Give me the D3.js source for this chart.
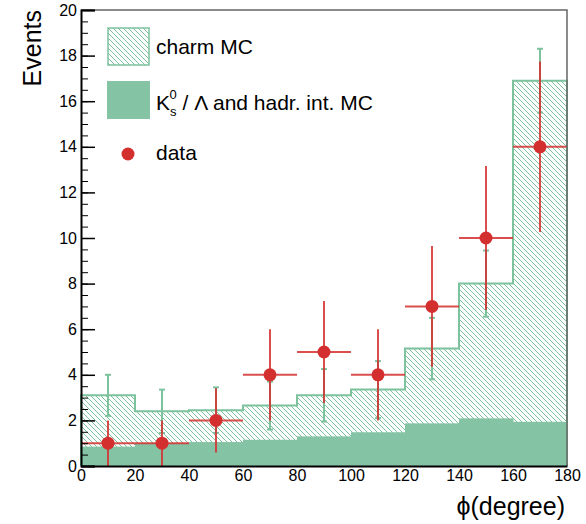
<!DOCTYPE html>
<html>
<head>
<meta charset="utf-8">
<script src="https://cdn.jsdelivr.net/npm/d3@7"></script>
<style>
  body { margin: 0; background: #fff; }
  svg text { font-family: "Liberation Sans", Arial, sans-serif; fill: #000; }
</style>
</head>
<body>
<div id="chart"></div>
<script>
// bin edges in phi (degree)
var phiEdges = [0, 20, 40, 60, 80, 100, 120, 140, 160, 180];
// charm MC (stacked total) and its errors
var charmMC = [3.1, 2.4, 2.45, 2.65, 3.1, 3.35, 5.15, 8.0, 16.9];
var charmErr = [0.9, 0.95, 1.0, 1.05, 1.15, 1.25, 1.35, 1.45, 1.4];
// K0s / Lambda and hadronic interaction MC
var hadrMC = [0.85, 1.0, 1.05, 1.15, 1.3, 1.48, 1.87, 2.09, 1.94];
// data points
var dataVals = [1, 1, 2, 4, 5, 4, 7, 10, 14];
var dataErr = [1, 1, 1.41, 2, 2.24, 2, 2.65, 3.16, 3.74];
var yTicks = [0, 2, 4, 6, 8, 10, 12, 14, 16, 18, 20];
var xTicks = [0, 20, 40, 60, 80, 100, 120, 140, 160, 180];

var width = 586, height = 524;
var margin = {top: 10, right: 19, bottom: 58, left: 81};

var svg = d3.select("#chart").append("svg")
    .attr("width", width)
    .attr("height", height);

var x = d3.scaleLinear().domain([0, 180]).range([margin.left, width - margin.right]);
var y = d3.scaleLinear().domain([0, 20]).range([height - margin.bottom, margin.top]);

var green = "#85c3a5", greenLine = "#7cc29d", red = "#d32f2f";

var defs = svg.append("defs");
var pat = defs.append("pattern")
    .attr("id", "hatch")
    .attr("patternUnits", "userSpaceOnUse")
    .attr("width", 5).attr("height", 5);
pat.append("path")
    .attr("d", "M-1,-1L6,6M-1,4L1,6M4,-1L6,1")
    .attr("stroke", greenLine)
    .attr("stroke-width", 1);

var bins = charmMC.map(function(v, i) {
    return {x0: phiEdges[i], x1: phiEdges[i + 1], charm: v, cErr: charmErr[i],
            hadr: hadrMC[i], data: dataVals[i], dErr: dataErr[i]};
});

// hatched charm MC
svg.selectAll(".charm")
    .data(bins)
  .enter().append("rect")
    .attr("class", "charm")
    .attr("x", function(d) { return x(d.x0); })
    .attr("width", function(d) { return x(d.x1) - x(d.x0); })
    .attr("y", function(d) { return y(d.charm); })
    .attr("height", function(d) { return y(0) - y(d.charm); })
    .attr("fill", "url(#hatch)");

// solid hadr. MC
svg.selectAll(".hadr")
    .data(bins)
  .enter().append("rect")
    .attr("class", "hadr")
    .attr("x", function(d) { return x(d.x0); })
    .attr("width", function(d) { return x(d.x1) - x(d.x0) + 0.5; })
    .attr("y", function(d) { return y(d.hadr); })
    .attr("height", function(d) { return y(0) - y(d.hadr); })
    .attr("fill", green);

// step outline of charm MC
var stepPts = [[0, 0]];
bins.forEach(function(d) { stepPts.push([d.x0, d.charm]); stepPts.push([d.x1, d.charm]); });
stepPts.push([180, 0]);
svg.append("path")
    .datum(stepPts)
    .attr("fill", "none")
    .attr("stroke", greenLine)
    .attr("stroke-width", 2)
    .attr("d", d3.line().x(function(p) { return x(p[0]); }).y(function(p) { return y(p[1]); }));

// MC error bars
var mcErr = svg.append("g").attr("stroke", greenLine).attr("stroke-width", 2);
bins.forEach(function(d) {
    var cx = x((d.x0 + d.x1) / 2);
    mcErr.append("line").attr("x1", cx).attr("x2", cx)
        .attr("y1", y(d.charm - d.cErr)).attr("y2", y(d.charm + d.cErr));
    [d.charm - d.cErr, d.charm + d.cErr].forEach(function(v) {
        mcErr.append("line").attr("x1", cx - 3).attr("x2", cx + 3)
            .attr("y1", y(v)).attr("y2", y(v));
    });
});

// data error bars and points
var dg = svg.append("g");
bins.forEach(function(d) {
    var cx = x((d.x0 + d.x1) / 2);
    dg.append("line").attr("x1", cx).attr("x2", cx)
        .attr("y1", y(Math.max(0, d.data - d.dErr))).attr("y2", y(d.data + d.dErr))
        .attr("stroke", red).attr("stroke-width", 2).attr("stroke-opacity", 0.85);
    dg.append("line").attr("x1", x(d.x0)).attr("x2", x(d.x1))
        .attr("y1", y(d.data)).attr("y2", y(d.data))
        .attr("stroke", red).attr("stroke-width", 2).attr("stroke-opacity", 0.85);
});
dg.selectAll("circle")
    .data(bins)
  .enter().append("circle")
    .attr("cx", function(d) { return x((d.x0 + d.x1) / 2); })
    .attr("cy", function(d) { return y(d.data); })
    .attr("r", 6.5)
    .attr("fill", red);

// frame
svg.append("path")
    .attr("d", "M" + x(0) + "," + y(20) + "H" + x(180) + "V" + y(0))
    .attr("fill", "none").attr("stroke", "#666").attr("stroke-width", 1.5);

// y axis with inner ticks
var yAxis = svg.append("g")
    .attr("transform", "translate(" + x(0) + ",0)")
    .call(d3.axisLeft(y).tickValues(yTicks).tickSize(-14).tickPadding(4));
svg.append("g")
    .attr("transform", "translate(" + x(0) + ",0)")
    .call(d3.axisLeft(y).tickValues(d3.range(0, 20.01, 0.5)).tickSize(-7).tickFormat(""))
    .select(".domain").remove();
yAxis.select(".domain").attr("stroke", "#000").attr("stroke-width", 2);
yAxis.selectAll(".tick line").attr("stroke-width", 1.5);
yAxis.selectAll("text").style("font-size", "16px").attr("fill", "#000");

// x axis
var xAxis = svg.append("g")
    .attr("transform", "translate(0," + y(0) + ")")
    .call(d3.axisBottom(x).tickValues(xTicks).tickSize(0).tickPadding(4));
xAxis.select(".domain").attr("stroke", "#000").attr("stroke-width", 2);
xAxis.selectAll("text").style("font-size", "16px").attr("fill", "#000");

// axis titles
svg.append("text")
    .attr("transform", "translate(41," + y(20) + ") rotate(-90)")
    .attr("text-anchor", "end")
    .style("font-size", "25px")
    .text("Events");
svg.append("text")
    .attr("x", x(180) - 2)
    .attr("y", 515)
    .attr("text-anchor", "end")
    .style("font-size", "25px")
    .text("\u03d5(degree)");

// legend
var lg = svg.append("g");
lg.append("rect").attr("x", 108).attr("y", 28).attr("width", 41).attr("height", 37)
    .attr("fill", "url(#hatch)").attr("stroke", greenLine).attr("stroke-width", 1.5);
lg.append("rect").attr("x", 107).attr("y", 81).attr("width", 43).attr("height", 38)
    .attr("fill", green);
lg.append("circle").attr("cx", 128).attr("cy", 154).attr("r", 6.5).attr("fill", red);

lg.append("text").attr("x", 156).attr("y", 54).style("font-size", "21px").text("charm MC");
var kt = lg.append("text").attr("x", 156).attr("y", 110).style("font-size", "21px");
kt.append("tspan").text("K");
kt.append("tspan").attr("dy", 6).style("font-size", "13px").text("s");
kt.append("tspan").attr("dx", -7).attr("dy", -17).style("font-size", "13px").text("0");
kt.append("tspan").attr("dy", 11).text(" / \u039b and hadr. int. MC");
lg.append("text").attr("x", 156).attr("y", 160).style("font-size", "21px").text("data");
</script>
</body>
</html>
